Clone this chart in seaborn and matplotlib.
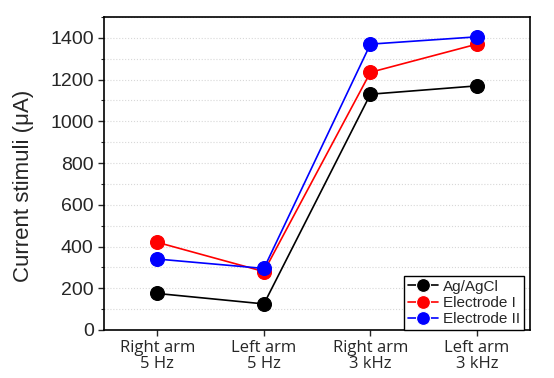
import matplotlib.pyplot as plt
import pandas as pd
import seaborn as sns

# values
categories = ["Right arm\n5 Hz", "Left arm\n5 Hz", "Right arm\n3 kHz", "Left arm\n3 kHz"]
ag_agcl = [175, 125, 1130, 1170]
electrode_1 = [420, 280, 1235, 1370]
electrode_2 = [340, 295, 1370, 1405]
series_names = ["Ag/AgCl", "Electrode I", "Electrode II"]
colors = ["black", "red", "blue"]

rows = []
for name, vals in zip(series_names, [ag_agcl, electrode_1, electrode_2]):
    for i, v in enumerate(vals):
        rows.append({"pos": i, "current": v, "series": name})
df = pd.DataFrame(rows)

sns.set_style("ticks")
plt.rcParams["font.family"] = ["Liberation Sans", "DejaVu Sans"]

fig = plt.figure(figsize=(5.54, 3.78), dpi=100)
ax = fig.add_axes([0.188, 0.127, 0.769, 0.828])

sns.lineplot(data=df, x="pos", y="current", hue="series", palette=colors,
             marker="o", markersize=10, markeredgewidth=0.8, linewidth=1.2,
             ax=ax, legend=True, zorder=3)
for line, c in zip(ax.lines, colors):
    line.set_markeredgecolor(c)

ax.set_xlim(-0.5, 3.5)
ax.set_ylim(0, 1500)
ax.set_xticks(range(4))
ax.set_xticklabels(categories, family=["Open Sans", "DejaVu Sans"], fontsize=12,
                   linespacing=1.0)
ax.set_yticks(range(0, 1401, 200))
ax.set_yticks(range(0, 1501, 100), minor=True)
ax.tick_params(axis="y", labelsize=14, direction="out", length=4, width=1)
ax.tick_params(axis="y", which="minor", length=2.5, width=0.8)
ax.tick_params(axis="x", direction="out", length=4, width=1)
ax.grid(axis="y", which="both", linestyle=":", color="#d8d8d8", linewidth=0.8, zorder=0)

ax.set_xlabel("")
ax.set_ylabel("Current stimuli (\u03bcA)", fontsize=16)
ax.yaxis.set_label_coords(-0.165, 0.46)
for s in ax.spines.values():
    s.set_linewidth(1.2)
    s.set_color("black")

leg = ax.legend(loc="lower right", fontsize=11, frameon=True, fancybox=False,
                edgecolor="black", facecolor="white", framealpha=1.0,
                borderaxespad=0.0, handlelength=2.0,
                handletextpad=0.3, borderpad=0.25, labelspacing=0.15,
                bbox_to_anchor=(0.985, 0.0))
leg.get_frame().set_linewidth(1.0)

fig.savefig("out.png", dpi=100)
